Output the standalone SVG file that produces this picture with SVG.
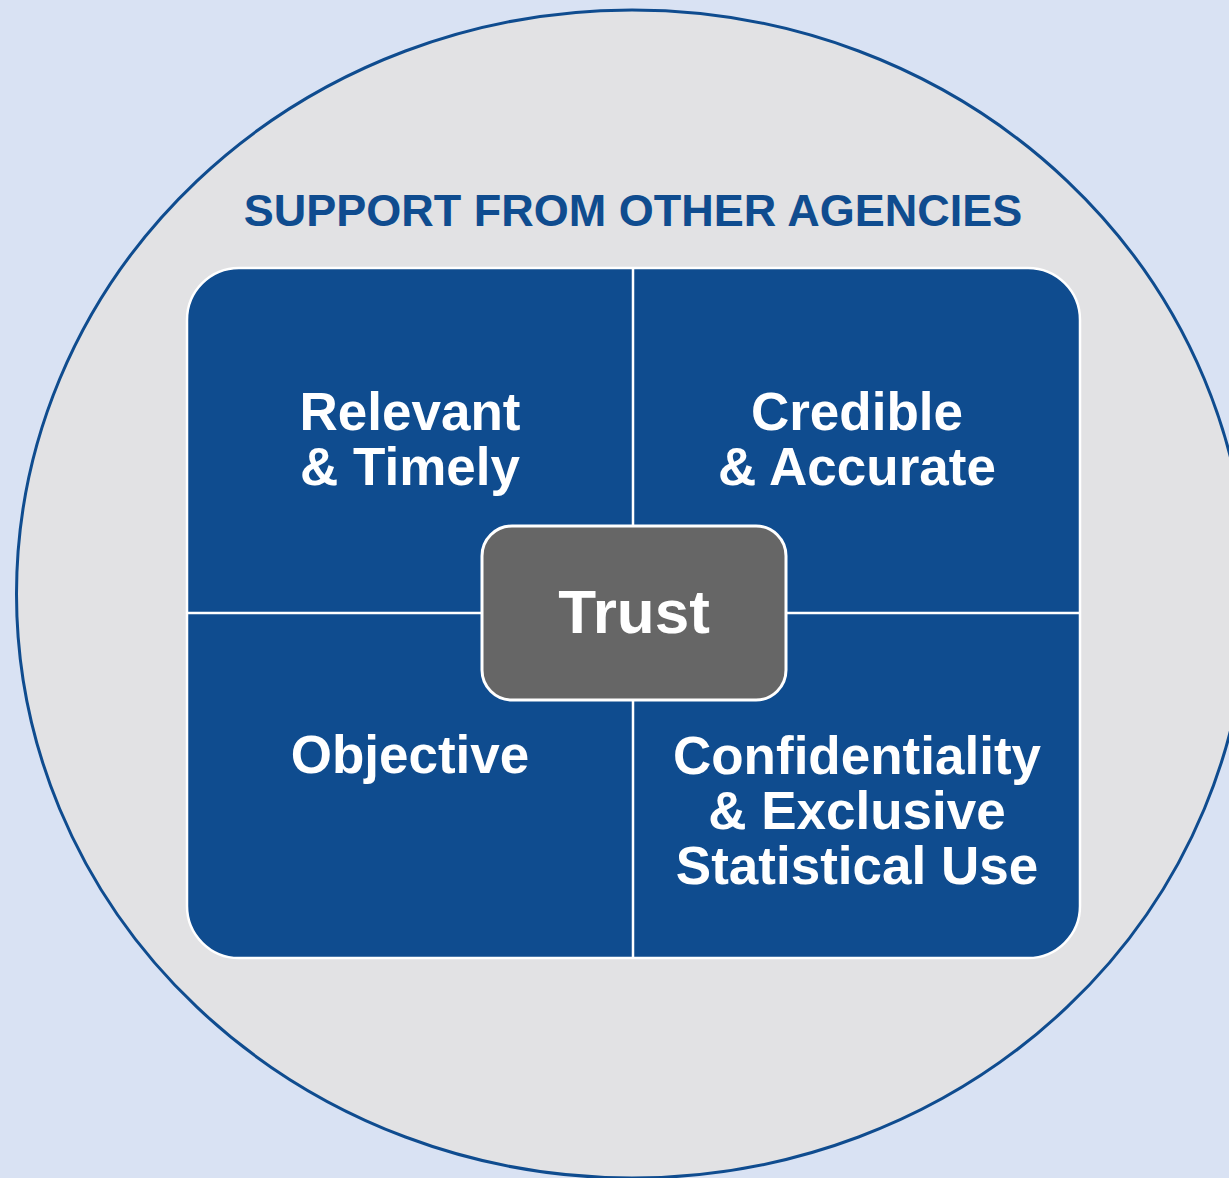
<svg xmlns="http://www.w3.org/2000/svg" width="1229" height="1178" viewBox="0 0 1229 1178">
<style>
.q{font-family:"Liberation Sans",Arial,sans-serif;font-weight:bold;font-size:53px;fill:#ffffff;text-anchor:middle}
.div{stroke:#ffffff;stroke-width:2.5}
</style>
<rect x="0" y="0" width="1229" height="1178" fill="#d9e2f3"/>
<g id="outer">
<ellipse cx="632" cy="594" rx="615.5" ry="584" fill="#e2e2e4" stroke="#0f4c8f" stroke-width="3"/>
<text x="633" y="226" font-family="Liberation Sans, Arial, sans-serif" font-weight="bold" font-size="45" fill="#0f4c8f" text-anchor="middle">SUPPORT FROM OTHER AGENCIES</text>
</g>
<g id="grid">
<rect x="187" y="268" width="893" height="690" rx="52" ry="52" fill="#0f4c8f" stroke="#ffffff" stroke-width="2.5"/>
</g>
<g id="connectors">
<line class="div" x1="633" y1="268" x2="633" y2="958"/>
<line class="div" x1="187" y1="613" x2="1080" y2="613"/>
</g>
<g id="relevant">
<text class="q" x="410" y="430">Relevant</text>
<text class="q" x="410" y="485">&amp; Timely</text>
</g>
<g id="credible">
<text class="q" x="857" y="430">Credible</text>
<text class="q" x="857" y="485">&amp; Accurate</text>
</g>
<g id="objective">
<text class="q" x="410" y="773">Objective</text>
</g>
<g id="confidentiality">
<text class="q" x="857" y="774">Confidentiality</text>
<text class="q" x="857" y="829">&amp; Exclusive</text>
<text class="q" x="857" y="884">Statistical Use</text>
</g>
<g id="trust">
<rect x="482" y="526" width="304" height="174" rx="30" ry="30" fill="#666666" stroke="#ffffff" stroke-width="3"/>
<text x="634" y="633" font-family="Liberation Sans, Arial, sans-serif" font-weight="bold" font-size="62" fill="#ffffff" text-anchor="middle">Trust</text>
</g>
</svg>
